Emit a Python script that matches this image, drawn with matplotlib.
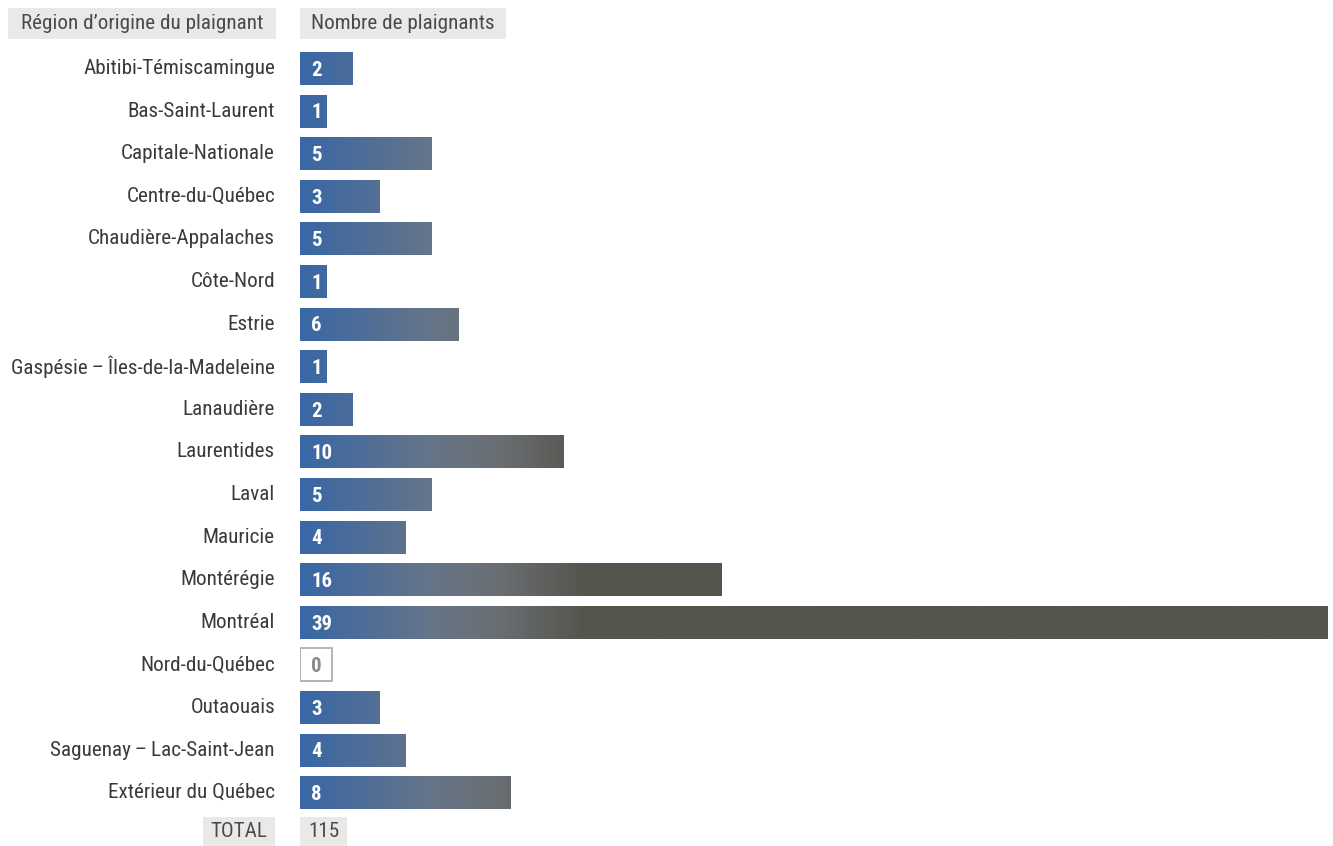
import numpy as np
import matplotlib
matplotlib.use('Agg')
import matplotlib.pyplot as plt
from matplotlib.colors import LinearSegmentedColormap
from matplotlib.patches import Rectangle
from matplotlib import font_manager

regions = ['Abitibi-Témiscamingue', 'Bas-Saint-Laurent', 'Capitale-Nationale',
           'Centre-du-Québec', 'Chaudière-Appalaches', 'Côte-Nord', 'Estrie',
           'Gaspésie\u2009–\u2009Îles-de-la-Madeleine', 'Lanaudière', 'Laurentides', 'Laval',
           'Mauricie', 'Montérégie', 'Montréal', 'Nord-du-Québec', 'Outaouais',
           'Saguenay\u2009–\u2009Lac-Saint-Jean', 'Extérieur du Québec']
counts = [2, 1, 5, 3, 5, 1, 6, 1, 2, 10, 5, 4, 16, 39, 0, 3, 4, 8]
total_label = 'TOTAL'
total_value = 115
head_left = 'Région d\u2019origine du plaignant'
head_right = 'Nombre de plaignants'

names = {f.name for f in font_manager.fontManager.ttflist}
fam = [f for f in ['Roboto Condensed', 'Liberation Sans Narrow', 'DejaVu Sans'] if f in names]
plt.rcParams['font.family'] = fam

W, H = 1333, 846
fig = plt.figure(figsize=(W / 100, H / 100), dpi=100)
x0, x1 = 300, 1328
ax = fig.add_axes([x0 / W, 0, (x1 - x0) / W, 1])
xmax = max(counts)
ax.set_xlim(0, xmax)
row0, step = 68.5, 42.6
ax.set_ylim((H - row0) / step, -row0 / step)
ax.axis('off')

# gradient fixed in x: blue at left, dark grey beyond ~x=585 px
gpx = 585
cmap = LinearSegmentedColormap.from_list('g', [(0, '#3967a6'), (130 / 285, '#667589'),
                                               (200 / 285, '#6a6e72'), (1, '#55554d')])
gend = (gpx - x0) / (x1 - x0) * xmax
xs = np.linspace(0, xmax, 1200)
grad = cmap(np.clip(xs / gend, 0, 1))[None, :, :]

bh = 33 / step
for i, v in enumerate(counts):
    if v > 0:
        rect = Rectangle((0, i - bh / 2), v, bh, facecolor='none', edgecolor='none')
        ax.add_patch(rect)
        im = ax.imshow(grad, extent=(0, xmax, i + bh / 2, i - bh / 2), aspect='auto',
                       interpolation='bilinear')
        im.set_clip_path(rect)
        ax.text(0.42, i + 0.04, str(v), color='white', fontsize=15, fontweight='bold',
                va='center', ha='left')
    else:
        w = 32 / (x1 - x0) * xmax
        ax.add_patch(Rectangle((0, i - bh / 2), w, bh, facecolor='white',
                               edgecolor='#a8a8a4', lw=1.2))
        ax.text(w / 2, i + 0.04, str(v), color='#8a8a86', fontsize=15, fontweight='bold',
                va='center', ha='center')
    ax.text(-25 / (x1 - x0) * xmax, i, regions[i], color='#3a3a3a', fontsize=15.2,
            va='center', ha='right')

ax.set_ylim(ax.get_ylim())
ax.set_xlim(0, xmax)

# header boxes
def box(xl, xr, yc, hgt, label, color='#4a4a48', size=15.2):
    fig.patches.append(Rectangle((xl / W, 1 - (yc + hgt / 2) / H), (xr - xl) / W, hgt / H,
                                 transform=fig.transFigure, facecolor='#e9e9e7',
                                 edgecolor='none'))
    fig.text((xl + xr) / 2 / W, 1 - yc / H, label, ha='center', va='center',
             color=color, fontsize=size)

box(8, 276, 23.5, 31, head_left)
box(300, 506, 23.5, 31, head_right)
ty = row0 + step * len(counts) - 4
box(203, 275, ty, 29, total_label)
box(300, 347, ty, 29, str(total_value))

fig.savefig('out.png', dpi=100)
